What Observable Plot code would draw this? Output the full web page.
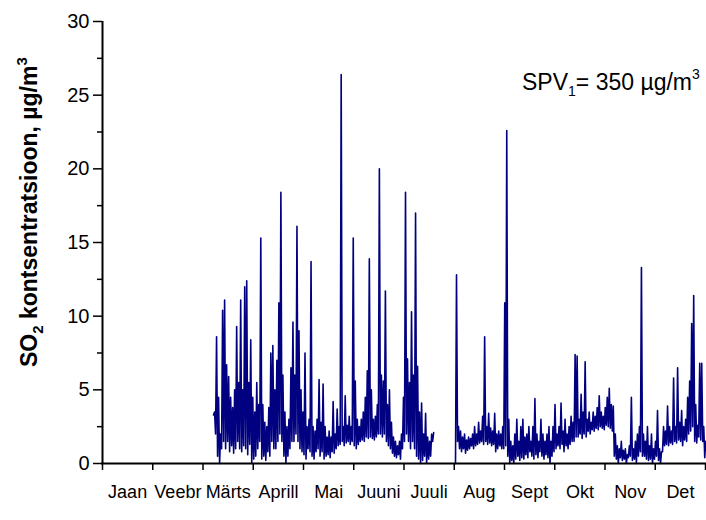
<!DOCTYPE html>
<html>
<head>
<meta charset="utf-8">
<script src="https://cdn.jsdelivr.net/npm/d3@7"></script>
<script src="https://cdn.jsdelivr.net/npm/@observablehq/plot@0.6"></script>
<style>
  html, body { margin: 0; padding: 0; background: white; }
  #chart svg { display: block; }
</style>
</head>
<body>
<div id="chart"></div>
<script>
// Month labels (x axis, month index 0..12)
const monthNames = ["Jaan","Veebr","Märts","Aprill","Mai","Juuni","Juuli","Aug","Sept","Okt","Nov","Det"];
const monthStarts = [0,1,2,3,4,5,6,7,8,9,10,11,12];
const yMajor = [0,5,10,15,20,25,30];
const yMinor = [2.5,7.5,12.5,17.5,22.5,27.5];

// Sampling of the hourly record: each sample keeps a low and a high reading
const sampleStep = 0.04;        // months per sample (~1.2 days)
const seg1Start = 2.21;         // early March
const seg2Start = 7.025;        // early August

// Segment 1: March – mid July (SO2, µg/m3)
const lo1 = [3.3,2.0,0.5,0.0,1.0,1.5,1.0,1.5,0.8,1.2,
             0.7,1.0,1.5,1.0,0.8,1.2,1.0,0.6,1.3,0.0,
             0.3,0.5,1.0,1.5,0.3,0.5,0.2,0.8,0.5,1.5,
             1.0,1.0,1.5,2.0,1.5,0.5,0.0,0.5,1.0,1.5,
             1.5,2.0,1.5,1.0,0.8,0.6,0.3,1.0,0.8,0.5,
             0.3,0.8,1.0,0.5,0.8,0.3,0.5,0.6,0.4,0.8,
             0.7,1.0,1.2,1.3,1.5,1.2,1.4,1.5,1.3,1.5,
             1.2,1.0,1.3,1.5,1.6,1.5,1.8,1.7,1.8,1.7,
             1.6,1.8,2.0,2.0,1.8,2.0,1.5,1.2,1.0,0.7,
             0.5,0.4,0.6,0.3,1.0,1.5,2.0,1.5,1.0,1.5,
             1.0,0.5,0.3,0.0,0.2,0.5,0.0,0.3,0.5,1.5];
const hi1 = [3.5,8.6,4.5,2.0,10.4,11.1,6.7,5.9,4.5,3.8,
             5.0,9.3,5.5,11.1,5.0,12.0,12.4,5.5,8.4,4.5,
             3.5,5.5,4.0,15.3,4.0,2.8,2.5,3.8,7.5,8.0,
             5.0,7.0,10.9,18.4,6.0,3.5,2.5,3.0,6.5,9.6,
             6.0,16.1,9.0,5.0,3.5,7.5,2.5,3.0,13.7,2.5,
             2.2,3.0,5.7,2.8,5.4,2.5,1.8,2.2,1.8,4.2,
             2.0,3.7,2.5,26.4,2.5,4.6,2.6,3.2,2.5,15.3,
             5.6,3.0,2.5,3.0,3.5,4.5,6.3,13.9,5.0,3.0,
             3.2,4.0,20.0,6.0,5.6,11.7,4.0,5.0,2.8,1.8,
             1.5,1.2,1.5,2.0,4.5,18.4,7.1,5.5,10.3,6.0,
             17.0,6.6,3.5,4.1,2.0,3.4,1.8,1.5,2.0,2.1];

// Segment 2: August – December
const lo2 = [0.0,1.5,1.0,0.8,1.0,0.7,0.9,1.0,1.2,1.0,
             1.2,1.3,1.4,1.5,1.3,1.5,1.3,1.4,1.2,1.3,
             0.8,1.0,1.2,1.0,1.0,1.2,0.5,0.0,0.2,0.0,
             0.3,0.5,0.2,0.4,0.3,0.6,0.4,0.8,0.5,0.3,
             0.6,0.4,0.8,0.5,0.3,0.6,0.4,0.0,0.5,0.8,
             1.0,1.2,1.0,1.3,0.8,1.2,1.0,1.3,1.5,1.5,
             1.8,1.8,2.0,1.7,2.0,1.8,2.2,2.0,2.3,2.2,
             2.4,2.3,2.5,2.4,2.3,2.6,2.5,2.4,2.2,0.5,
             0.3,0.0,0.4,0.2,0.3,0.0,0.4,0.5,0.2,0.3,
             0.0,0.5,0.8,0.5,0.5,0.3,0.2,0.3,0.0,0.3,
             0.5,0.2,0.0,0.8,1.2,1.3,1.2,1.4,1.3,1.5,
             1.4,1.6,1.5,1.2,1.6,1.5,2.0,2.2,2.5,1.5,
             1.4,1.8,1.6,1.5,0.4];
const hi2 = [12.8,2.5,2.2,1.8,2.0,1.6,1.8,1.7,2.0,2.5,
             2.0,2.8,2.2,3.2,8.6,2.5,3.4,2.4,2.2,3.4,
             2.0,2.2,2.0,2.5,10.9,22.6,3.0,1.5,1.2,2.0,
             3.0,1.5,2.5,3.0,1.8,2.0,2.5,1.5,2.5,4.4,
             2.0,1.5,3.0,2.0,1.5,2.0,2.5,1.5,2.5,4.0,
             2.0,2.5,4.1,2.2,3.0,2.0,2.5,3.2,2.8,7.4,
             7.3,3.0,4.7,3.5,6.9,3.0,3.5,2.8,3.5,3.2,
             3.8,4.6,3.5,3.2,3.8,4.5,5.1,4.0,3.9,2.0,
             1.2,1.0,1.5,0.9,1.0,0.6,1.2,4.5,1.0,1.5,
             2.0,2.5,13.3,2.0,1.5,2.5,1.2,2.0,1.0,1.5,
             3.6,1.0,0.8,2.5,2.2,3.9,2.5,2.2,5.8,2.5,
             6.5,2.8,3.6,2.5,3.0,4.5,5.6,9.5,11.4,4.0,
             2.6,6.8,6.8,2.5,1.5];

// Build the line table from the read samples (low then high in each sample)
const series = [];
[[seg1Start, lo1, hi1, 1], [seg2Start, lo2, hi2, 2]].forEach(([start, lo, hi, seg]) => {
  lo.forEach((v, i) => {
    series.push({t: start + i * sampleStep, v: v, seg});
    series.push({t: start + (i + 0.5) * sampleStep, v: hi[i], seg});
  });
});

const monthLabels = monthNames.map((name, i) => ({name, m: i + 0.5}));
const FONT = "Liberation Sans, Arial, Helvetica, sans-serif";

const chart = Plot.plot({
  width: 706,
  height: 520,
  marginLeft: 102,
  marginRight: 1,
  marginTop: 21,
  marginBottom: 57,
  style: {fontFamily: FONT, background: "white", overflow: "visible"},
  x: {domain: [0, 12]},
  y: {domain: [0, 30]},
  marks: [
    Plot.axisY({ticks: yMajor, tickSize: 9, tickPadding: 4, fontSize: 20, label: null, stroke: "black", strokeWidth: 1.5}),
    Plot.axisY({ticks: yMinor, tickSize: 5, tickFormat: () => "", label: null, stroke: "black", strokeWidth: 1.5}),
    Plot.axisX({ticks: monthStarts, tickSize: 7, tickFormat: () => "", label: null, stroke: "black", strokeWidth: 1.5}),
    Plot.text(monthLabels, {x: "m", text: "name", frameAnchor: "bottom", lineAnchor: "bottom", dy: 34, fontSize: 18, fill: "black"}),
    Plot.line(series, {x: "t", y: "v", z: "seg", stroke: "#000080", strokeWidth: 1.6}),
    Plot.ruleY([0], {x1: -0.02, x2: 12.02, stroke: "black", strokeWidth: 2}),
    Plot.ruleX([0], {y1: 0, y2: 30, stroke: "black", strokeWidth: 2})
  ]
});

document.getElementById("chart").appendChild(chart);

const svg = d3.select(chart);

// Y axis title
const yl = svg.append("g")
  .attr("transform", "translate(37,367) rotate(-90)")
  .append("text")
  .attr("text-anchor", "start")
  .attr("font-family", FONT).attr("font-size", 23).attr("font-weight", "bold").attr("fill", "black");
yl.append("tspan").text("SO");
yl.append("tspan").attr("font-size", 15).attr("dy", 6).text("2");
yl.append("tspan").attr("dy", -6).text(" kontsentratsioon, µg/m");
yl.append("tspan").attr("font-size", 15).attr("dy", -10).text("3");

// Limit value annotation
const an = svg.append("text")
  .attr("x", 522).attr("y", 90)
  .attr("text-anchor", "start")
  .attr("font-family", FONT).attr("font-size", 23).attr("fill", "black");
an.append("tspan").text("SPV");
an.append("tspan").attr("font-size", 14).attr("dy", 6).text("1");
an.append("tspan").attr("dy", -6).text("= 350 µg/m");
an.append("tspan").attr("font-size", 14).attr("dy", -11).text("3");
</script>
</body>
</html>
